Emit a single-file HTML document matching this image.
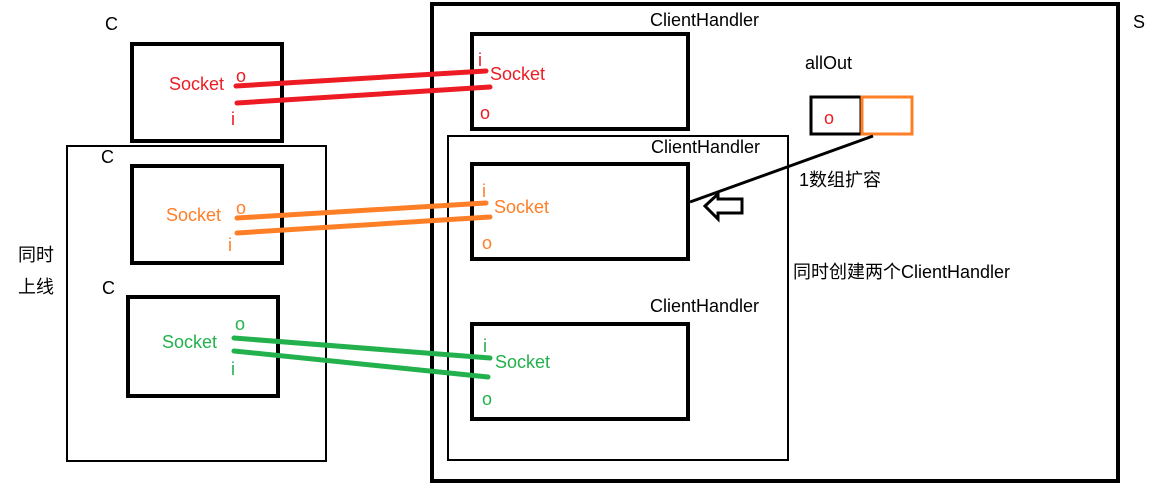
<!DOCTYPE html>
<html><head><meta charset="utf-8"><style>
html,body{margin:0;padding:0;background:#fff;}
svg{display:block;}
text{font-family:"Liberation Sans","Noto Sans CJK SC",sans-serif;font-size:18px;}
</style></head><body>
<svg width="1159" height="487" viewBox="0 0 1159 487">
<g fill="none" stroke="#000">
<rect x="432" y="4" width="686" height="477" stroke-width="4"/>
<rect x="472" y="34" width="216" height="95" stroke-width="4"/>
<rect x="448" y="136" width="340" height="324" stroke-width="2"/>
<rect x="472" y="164" width="216" height="95" stroke-width="4"/>
<rect x="472" y="324" width="216" height="95" stroke-width="4"/>
<rect x="132" y="44" width="150" height="97" stroke-width="4"/>
<rect x="67" y="146" width="259" height="315" stroke-width="2"/>
<rect x="132" y="166" width="150" height="97" stroke-width="4"/>
<rect x="128" y="297" width="150" height="99" stroke-width="4"/>
<rect x="811" y="97" width="50" height="37" stroke-width="3"/>
<rect x="862" y="97" width="50" height="37" stroke="#ff7f27" stroke-width="3"/>
<line x1="873" y1="136" x2="690" y2="202" stroke-width="3"/>
<path d="M705 206 L718 194 L718 199 L742 199 L742 213 L718 213 L718 219 Z" stroke-width="3" fill="#fff"/>
</g>
<rect x="646" y="10" width="140" height="22" fill="#fff"/>
<g stroke-linecap="round" stroke-width="5">
<line x1="236" y1="86" x2="486" y2="71" stroke="#ed1c24"/>
<line x1="237" y1="103" x2="490" y2="87" stroke="#ed1c24"/>
<line x1="237" y1="218" x2="486" y2="203" stroke="#ff7f27"/>
<line x1="237" y1="233" x2="490" y2="217" stroke="#ff7f27"/>
<line x1="234" y1="338" x2="490" y2="358" stroke="#22b14c"/>
<line x1="234" y1="351" x2="488" y2="377" stroke="#22b14c"/>
</g>
<g fill="#000">
<text x="105" y="30">C</text>
<text x="101" y="163">C</text>
<text x="102" y="294">C</text>
<text x="1133" y="28">S</text>
<text x="18" y="261">同时</text>
<text x="18" y="293">上线</text>
<text x="650" y="26">ClientHandler</text>
<text x="651" y="153">ClientHandler</text>
<text x="650" y="312">ClientHandler</text>
<text x="805" y="69">allOut</text>
<text x="799" y="186">1数组扩容</text>
<text x="793" y="278">同时创建两个ClientHandler</text>
</g>
<g fill="#ed1c24">
<text x="169" y="90">Socket</text><text x="236" y="82">o</text><text x="231" y="125">i</text>
<text x="478" y="66">i</text><text x="490" y="80">Socket</text><text x="480" y="119">o</text>
<text x="824" y="124">o</text>
</g>
<g fill="#ff7f27">
<text x="166" y="221">Socket</text><text x="236" y="214">o</text><text x="228" y="251">i</text>
<text x="482" y="197">i</text><text x="494" y="213">Socket</text><text x="482" y="249">o</text>
</g>
<g fill="#22b14c">
<text x="162" y="348">Socket</text><text x="235" y="330">o</text><text x="231" y="375">i</text>
<text x="483" y="352">i</text><text x="495" y="368">Socket</text><text x="482" y="405">o</text>
</g>
</svg>
</body></html>
